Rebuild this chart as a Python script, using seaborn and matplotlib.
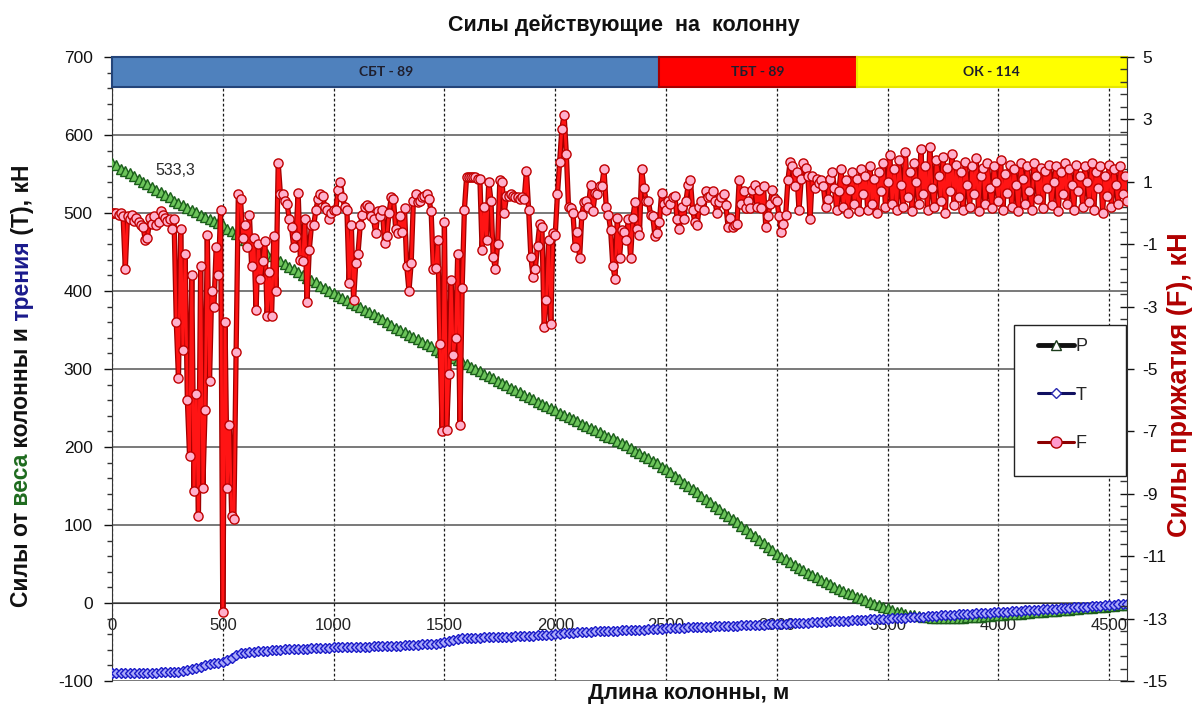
import numpy as np
import pandas as pd
import matplotlib
matplotlib.use("Agg")
import matplotlib.pyplot as plt
import seaborn as sns
from matplotlib.patches import Rectangle
from matplotlib.lines import Line2D
from matplotlib.ticker import FixedLocator

# ---------------------------------------------------------------- data
# column length grid (m)
depth_pt = np.arange(0, 4581, 20)   # P and T every 20 m
depth_f = np.arange(0, 4581, 10)    # F every 10 m

# P - force from the string weight, kN (left axis)
weight_p = [
    564, 561, 557, 554, 551, 547, 544, 540, 537, 533,
    530, 527, 523, 520, 516, 513, 510, 507, 504, 501,
    498, 495, 492, 490, 487, 484, 480, 477, 473, 470,
    466, 462, 459, 455, 452, 448, 445, 441, 438, 434,
    431, 428, 424, 421, 417, 414, 411, 407, 404, 400,
    397, 394, 391, 388, 385, 382, 379, 376, 373, 370,
    367, 364, 360, 357, 353, 350, 347, 344, 341, 338,
    335, 332, 329, 325, 322, 319, 316, 314, 311, 309,
    306, 303, 300, 297, 294, 291, 288, 285, 282, 279,
    276, 273, 270, 267, 264, 261, 258, 255, 253, 250,
    247, 244, 241, 239, 236, 233, 230, 227, 225, 222,
    219, 216, 213, 211, 208, 205, 202, 199, 195, 192,
    189, 186, 182, 179, 175, 172, 168, 163, 159, 154,
    150, 146, 142, 137, 133, 129, 125, 121, 116, 112,
    108, 104, 99, 95, 90, 86, 81, 77, 72, 68,
    63, 59, 56, 52, 49, 45, 42, 39, 36, 33,
    30, 27, 24, 21, 18, 16, 13, 11, 8, 6,
    4, 1, -1, -3, -5, -7, -9, -11, -12, -14,
    -15, -16, -17, -18, -18.5, -19, -19.5, -19.5, -19.5, -19.5,
    -19.5, -19, -19, -18.5, -18, -18, -17.5, -17, -16.5, -16,
    -15.5, -15, -14.5, -14.5, -14, -13.5, -13, -12.5, -12, -11.5,
    -11, -10.5, -10, -10, -9.5, -9, -8.5, -8, -7.5, -7,
    -6.5, -6, -5.5, -5, -4.5, -4, -3.5, -3, -2.5, -2,
]

# T - friction force, kN (left axis)
friction_t = [
    -90, -90, -90, -90, -90, -90, -89.5, -89.5, -89.5, -89.5,
    -89.5, -89, -89, -89, -88.5, -88, -87, -86, -85, -83.5,
    -82, -80, -78.5, -77.5, -77, -76, -73, -70, -67, -64.5,
    -63.5, -63, -62.5, -62, -61.5, -61, -60.5, -60, -60, -59.5,
    -59.5, -59, -59, -58.5, -58.5, -58, -58, -58, -57.5, -57.5,
    -57, -57, -57, -56.5, -56.5, -56.5, -56, -56, -56, -55.5,
    -55.5, -55, -55, -55, -54.5, -54.5, -54, -54, -53.5, -53.5,
    -53, -53, -52.5, -52, -51, -50, -48.5, -47, -46, -45.5,
    -45, -45, -44.5, -44.5, -44, -44, -44, -43.5, -43.5, -43,
    -43, -42.5, -42.5, -42, -42, -42, -41.5, -41.5, -41, -40.5,
    -40, -39.5, -39, -38.5, -38, -37.5, -37.5, -37, -37, -36.5,
    -36.5, -36, -36, -35.5, -35.5, -35, -35, -34.5, -34.5, -34,
    -34, -33.7, -33.4, -33.1, -32.8, -32.5, -32.3, -32.1, -31.9, -31.6,
    -31.4, -31.2, -30.9, -30.7, -30.5, -30.3, -30, -29.8, -29.6, -29.4,
    -29.1, -28.9, -28.7, -28.5, -28.2, -28, -27.8, -27.6, -27.3, -27.1,
    -27, -26.7, -26.4, -26.2, -25.9, -25.6, -25.3, -25, -24.8, -24.5,
    -24.2, -23.9, -23.6, -23.4, -23.1, -22.8, -22.5, -22.2, -22, -21.7,
    -21.4, -21.1, -20.8, -20.6, -20.3, -20, -19.7, -19.4, -19, -18.7,
    -18.4, -18, -17.7, -17.4, -17, -16.7, -16.4, -16, -15.7, -15.4,
    -15, -14.7, -14.4, -14, -13.7, -13.4, -13, -12.7, -12.4, -12,
    -11.7, -11.3, -11, -10.6, -10.3, -9.9, -9.6, -9.2, -8.9, -8.5,
    -8.2, -7.8, -7.4, -7.1, -6.7, -6.4, -6, -5.6, -5.3, -4.9,
    -4.5, -4.2, -3.8, -3.4, -3.1, -2.7, -2.3, -1.9, -1.5, -1.2,
]

# F - side (contact) force, kN (right axis), one row per 100 m
contact_f = [
    0.0, 0.0, 0.0, -0.05, 0.0, -0.1, -1.8, -0.1, -0.2, -0.05,
    -0.25, -0.15, -0.3, -0.4, -0.45, -0.85, -0.8, -0.15, -0.35, -0.1,
    -0.4, -0.3, 0.05, -0.05, -0.15, -0.25, -0.2, -0.5, -0.2, -3.5,
    -5.3, -0.5, -4.4, -1.3, -6.0, -7.8, -2.0, -8.9, -5.8, -9.7,
    -1.7, -8.8, -6.3, -0.7, -5.4, -2.5, -3.0, -1.1, -2.0, 0.1,
    -12.8, -3.5, -8.8, -6.8, -9.7, -9.8, -4.45, 0.6, 0.45, -0.8,
    -0.4, -1.1, -0.05, -1.7, -0.8, -3.1, -1.0, -2.1, -1.55, -0.9,
    -3.3, -1.9, -3.3, -0.75, -2.5, 1.6, 0.6, 0.6, 0.4, 0.3,
    -0.2, -0.45, -1.1, -0.75, 0.65, -1.5, -1.55, -0.2, -2.85, -1.2,
    -0.4, -0.4, 0.1, 0.45, 0.6, 0.55, 0.2, 0.1, -0.2, 0.0,
    0.1, 0.1, 0.75, 1.0, 0.5, 0.2, 0.1, -2.25, -0.4, -2.8,
    -1.6, -1.3, -0.4, -0.05, 0.2, 0.25, 0.2, -0.1, -0.2, -0.65,
    0.05, -0.1, 0.1, -0.97, -0.75, 0.0, 0.5, 0.45, -0.5, -0.65,
    -0.1, -0.6, 0.15, -1.7, -2.5, -1.6, 0.4, 0.6, 0.35, 0.4,
    0.5, 0.55, 0.6, 0.45, 0.05, -1.8, -1.75, -0.85, -4.2, -7.0,
    -0.3, -6.95, -5.15, -2.15, -4.55, -4.0, -1.3, -6.8, -2.4, 0.1,
    1.15, 1.15, 1.15, 1.15, 1.15, 1.1, 1.1, -1.2, 0.2, -0.85,
    1.0, 0.4, -1.4, -1.8, -1.0, 1.05, 1.0, 0.0, 0.55, 0.55,
    0.6, 0.55, 0.5, 0.5, 0.45, 0.5, 0.45, 1.35, 0.1, -1.4,
    -2.05, -1.8, -1.05, -0.35, -0.45, -3.65, -2.8, -0.85, -3.55, -0.65,
    -0.7, 0.6, 1.65, 2.7, 3.15, 1.9, 0.2, 0.15, 0.0, -1.1,
    -0.6, -1.45, -0.05, 0.35, 0.4, 0.2, 0.9, 0.05, 0.65, 0.6,
    0.85, 0.85, 1.4, 0.2, -0.05, -0.55, -1.7, -2.1, -0.15, -1.45,
    -0.55, -0.6, -0.85, -0.2, -1.45, -0.15, 0.35, -0.5, -0.7, 1.4,
    0.8, 0.4, 0.4, -0.05, -0.1, -0.75, -0.65, -0.3, 0.65, 0.3,
    0.1, 0.4, 0.3, 0.5, 0.55, -0.2, -0.5, 0.2, -0.2, 0.4,
    0.9, 1.05, 0.1, -0.3, -0.4, 0.2, 0.4, 0.1, 0.7, 0.5,
    0.55, 0.7, 0.4, 0.0, 0.35, 0.5, 0.6, 0.25, -0.45, -0.15,
    -0.45, -0.4, -0.35, 1.05, 0.3, 0.7, 0.15, 0.4, 0.15, 0.75,
    0.9, 0.2, 0.75, 0.15, 0.85, -0.45, -0.1, 0.3, 0.75, 0.45,
    0.4, -0.1, -0.6, -0.35, -0.05, 1.05, 1.65, 1.5, 0.85, 1.3,
    0.1, 1.1, 1.6, 1.45, 1.2, -0.2, 1.2, 0.8, 1.1, 0.95,
    1.05, 0.85, 0.2, 0.45, 1.1, 1.3, 0.8, 0.1, 0.7, 1.4,
    0.2, 1.05, 0.0, 0.75, 1.3, 0.3, 1.1, 0.05, 1.4, 0.6,
    1.2, 0.1, 1.5, 0.3, 1.1, 0.0, 1.3, 0.7, 1.6, 0.2,
    1.0, 1.85, 0.3, 1.4, 0.1, 1.7, 0.9, 0.2, 1.95, 0.5,
    1.3, 0.05, 1.6, 1.0, 0.3, 2.05, 0.6, 1.5, 0.1, 2.1,
    0.8, 0.2, 1.7, 1.2, 0.4, 1.8, 0.0, 1.45, 0.7, 1.9,
    0.25, 1.55, 0.5, 1.3, 0.1, 1.65, 0.9, 0.2, 1.5, 0.6,
    1.75, 0.05, 1.2, 1.45, 0.3, 1.6, 0.8, 0.15, 1.5, 1.0,
    0.4, 1.7, 0.1, 1.25, 0.65, 1.55, 0.2, 1.4, 0.9, 0.05,
    1.6, 1.1, 0.3, 1.5, 0.7, 0.1, 1.6, 1.2, 0.45, 1.45,
    0.15, 1.35, 0.8, 1.55, 0.25, 1.0, 1.5, 0.05, 1.3, 0.6,
    1.6, 0.3, 1.4, 0.9, 0.1, 1.55, 0.7, 1.2, 0.2, 1.5,
    1.0, 0.35, 1.6, 0.1, 1.3, 0.8, 1.5, 0.0, 1.2, 0.55,
    1.55, 0.2, 1.4, 0.9, 0.3, 1.5, 0.6, 1.2, 0.4,
]

# string sections along the column
section_names = ["СБТ - 89", "ТБТ - 89", "ОК - 114"]
section_bounds = [0, 2470, 3360, 4580]
section_fill = ["#4F81BD", "#FF0000", "#FFFF00"]
section_edge = ["#24457A", "#A80000", "#E6E600"]

x_ticks = [0, 500, 1000, 1500, 2000, 2500, 3000, 3500, 4000, 4500]
left_ticks = [-100, 0, 100, 200, 300, 400, 500, 600, 700]
right_ticks = [-15, -13, -11, -9, -7, -5, -3, -1, 1, 3, 5]
series_labels = ["P", "T", "F"]

# ---------------------------------------------------------------- style
sns.set_style("white")
plt.rcParams["font.family"] = ["Liberation Sans", "DejaVu Sans"]
plt.rcParams["axes.unicode_minus"] = False

W, H = 1192, 706
fig = plt.figure(figsize=(W / 100, H / 100), dpi=100)
ax = fig.add_axes([112 / W, 1 - 681 / H, (1127 - 112) / W, (681 - 57) / H])

df_pt = pd.DataFrame({"depth": depth_pt, "P": weight_p, "T": friction_t})
df_f = pd.DataFrame({"depth": depth_f, "F": contact_f})

# P and T on the left axis
sns.lineplot(data=df_pt, x="depth", y="P", ax=ax, estimator=None, sort=False,
             color="#1E6B1E", linewidth=2.0, marker="^", markersize=7.0,
             markerfacecolor="#6CC45A", markeredgecolor="#1B5E1B",
             markeredgewidth=1.0, legend=False, zorder=4)
sns.lineplot(data=df_pt, x="depth", y="T", ax=ax, estimator=None, sort=False,
             color="#1414B4", linewidth=2.0, marker="D", markersize=5.2,
             markerfacecolor="#A8A8F8", markeredgecolor="#1A1AC8",
             markeredgewidth=1.0, legend=False, zorder=4)

ax.set_xlim(0, 4580)
ax.set_ylim(-100, 700)
ax.set_xlabel("")
ax.set_ylabel("")
ax.set_axisbelow(True)

# section band across the top
for name, x0, x1, fc, ec in zip(section_names, section_bounds[:-1],
                                 section_bounds[1:], section_fill, section_edge):
    ax.add_patch(Rectangle((x0, 662), x1 - x0, 38, facecolor=fc, edgecolor=ec,
                           linewidth=1.5, zorder=3, clip_on=False))
    ax.text((x0 + x1) / 2, 681, name, ha="center", va="center", fontsize=10,
            fontweight="bold", color="#1F1F2E", family=["Lato", "DejaVu Sans"],
            zorder=5)

# grid
ax.set_yticks(left_ticks)
ax.set_xticks(x_ticks)
ax.yaxis.grid(True, color="#6E6E6E", linewidth=1.3, linestyle="-")
ax.xaxis.grid(True, color="#1A1A1A", linewidth=0.9, linestyle=(0, (2.2, 1.8)))

# axes lines and ticks
ax.spines["bottom"].set_position(("data", 0))
ax.spines["bottom"].set_color("#333333")
ax.spines["left"].set_color("#333333")
ax.spines["top"].set_visible(False)
ax.spines["right"].set_visible(False)
ax.xaxis.set_minor_locator(FixedLocator(np.arange(0, 4581, 100)))
ax.yaxis.set_minor_locator(FixedLocator(np.arange(-100, 701, 20)))
ax.tick_params(axis="x", which="major", direction="out", length=3, width=1,
               pad=8, labelsize=12, colors="#222222")
ax.tick_params(axis="x", which="minor", direction="out", length=3, width=1,
               colors="#333333")
ax.tick_params(axis="y", which="major", direction="out", length=6, width=1,
               pad=8, labelsize=12.5, colors="#111111")
ax.tick_params(axis="y", which="minor", direction="out", length=3.5, width=1,
               colors="#333333")

ax.text(284, 555, "533,3", ha="center", va="center", fontsize=11.5,
        color="#2A2A2A", zorder=6)

# F on the right axis
ax2 = ax.twinx()
sns.lineplot(data=df_f, x="depth", y="F", ax=ax2, estimator=None, sort=False,
             color="#A00000", linewidth=3.8, legend=False, zorder=5)
sns.lineplot(data=df_f, x="depth", y="F", ax=ax2, estimator=None, sort=False,
             color="#FF1414", linewidth=2.0, marker="o", markersize=6.6,
             markerfacecolor="#FFB0CC", markeredgecolor="#C00000",
             markeredgewidth=1.0, legend=False, zorder=6)
ax2.set_ylim(-15, 5)
ax2.set_xlim(0, 4580)
ax2.set_ylabel("")
ax2.set_yticks(right_ticks)
ax2.yaxis.set_minor_locator(FixedLocator(np.arange(-15, 5.01, 0.4)))
for side in ("left", "top", "bottom"):
    ax2.spines[side].set_visible(False)
ax2.spines["right"].set_color("#333333")
ax2.tick_params(axis="y", which="major", direction="inout", length=10, width=1,
                pad=6, labelsize=12.5, colors="#111111")
ax2.tick_params(axis="y", which="minor", direction="in", length=5, width=1,
                colors="#333333")
ax2.grid(False)

# legend box
fig.patches.append(Rectangle((1014 / W, 1 - 476 / H), 112 / W, 151 / H,
                             transform=fig.transFigure, facecolor="white",
                             edgecolor="#222222", linewidth=1.0, zorder=10))
handles = [
    Line2D([], [], color="#111111", linewidth=3.5, marker="^", markersize=7,
           markerfacecolor="white", markeredgecolor="#1B3B1B", markeredgewidth=1),
    Line2D([], [], color="#101060", linewidth=2.2, marker="D", markersize=5,
           markerfacecolor="white", markeredgecolor="#2A2AB0", markeredgewidth=1),
    Line2D([], [], color="#8B0000", linewidth=2.2, marker="o", markersize=8,
           markerfacecolor="#FF9ACD", markeredgecolor="#B00000", markeredgewidth=1),
]
leg = fig.legend(handles, series_labels, loc="upper left",
                 bbox_to_anchor=(1038 / W, 1 - 338 / H), frameon=False,
                 fontsize=13, handlelength=2.0, handletextpad=0.1,
                 labelspacing=1.75, borderpad=0, borderaxespad=0)
leg.set_zorder(11)

# titles
fig.text(624 / W, 1 - 25 / H, "Силы действующие  на  колонну", ha="center",
         va="center", fontsize=15.5, fontweight="bold", color="#111111")
fig.text(689 / W, 1 - 694 / H, "Длина колонны, м", ha="center", va="center",
         fontsize=16, fontweight="bold", color="#111111")
fig.text(1180 / W, 1 - 385 / H, "Силы прижатия (F), кН", ha="center",
         va="center", rotation=90, fontsize=19.5, fontweight="bold",
         color="#B00000")

# multi-coloured left axis title
ylabel_parts = [("Силы от", "#111111"), (" веса", "#1E6B1E"),
                (" колонны и", "#111111"), (" трения", "#1A1A8C"),
                (" (Т), кН", "#111111")]
label_font = dict(fontsize=16.5, fontweight="bold")
renderer = fig.canvas.get_renderer()


def text_length(s):
    t = fig.text(0, 0, s, **label_font)
    w = t.get_window_extent(renderer).width
    t.remove()
    return w


total = text_length("".join(p for p, _ in ylabel_parts))
start = (H - 386) - total / 2
prefix = ""
for part, col in ylabel_parts:
    offset = text_length(prefix + part) - text_length(part) if prefix else 0.0
    fig.text(22 / W, (start + offset) / H, part, rotation=90, ha="center",
             va="bottom", color=col, **label_font)
    prefix += part

fig.savefig("out.png", dpi=100)
